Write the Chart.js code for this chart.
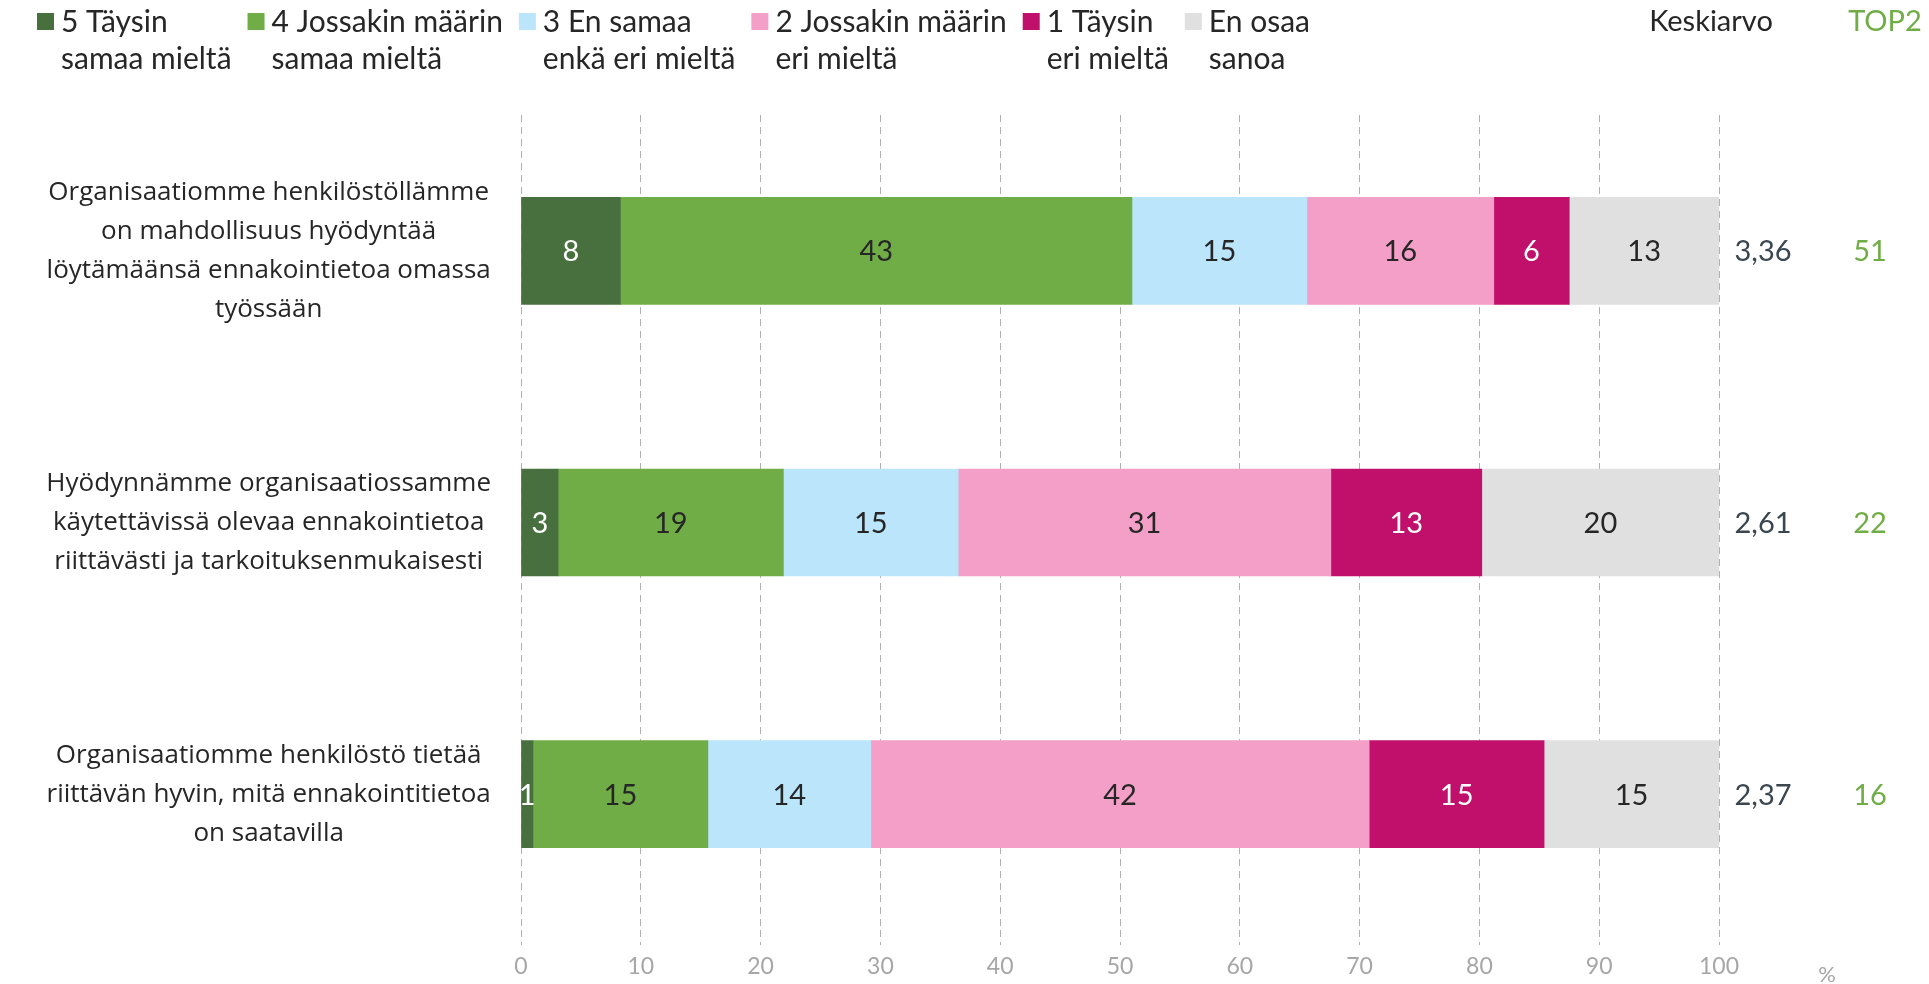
<!DOCTYPE html>
<html>
<head>
<meta charset="utf-8">
<script src="https://cdn.jsdelivr.net/npm/chart.js@4.4.0/dist/chart.umd.min.js"></script>
<style>
    html, body { margin: 0; padding: 0; background: #ffffff; }
    #wrap { width: 1929px; height: 984px; position: relative; }
</style>
</head>
<body>
<div id="wrap"><canvas id="chart" width="1929" height="984"></canvas></div>
<script>
// Chart data
const categories = [
    ['Organisaatiomme henkilöstöllämme', 'on mahdollisuus hyödyntää', 'löytämäänsä ennakointietoa omassa', 'työssään'],
    ['Hyödynnämme organisaatiossamme', 'käytettävissä olevaa ennakointietoa', 'riittävästi ja tarkoituksenmukaisesti'],
    ['Organisaatiomme henkilöstö tietää', 'riittävän hyvin, mitä ennakointitietoa', 'on saatavilla']
];

const seriesNames = [
    ['5 Täysin', 'samaa mieltä'],
    ['4 Jossakin määrin', 'samaa mieltä'],
    ['3 En samaa', 'enkä eri mieltä'],
    ['2 Jossakin määrin', 'eri mieltä'],
    ['1 Täysin', 'eri mieltä'],
    ['En osaa', 'sanoa']
];
const seriesColors = ['#48703f', '#70ad47', '#bae5fb', '#f39fc7', '#c1106c', '#e0e0e0'];
const labelColors = ['#ffffff', '#262626', '#262626', '#262626', '#ffffff', '#262626'];

const taysinSamaa = [8.3, 3.1, 1.0];
const jossakinSamaa = [42.7, 18.8, 14.6];
const enSamaaEnkaEri = [14.6, 14.6, 13.6];
const jossakinEri = [15.6, 31.1, 41.6];
const taysinEri = [6.3, 12.6, 14.6];
const enOsaa = [12.5, 19.8, 14.6];

const keskiarvo = ['3,36', '2,61', '2,37'];
const top2 = ['51', '22', '16'];

const xMin = 0;
const xMax = 100;
const xStep = 10;

const FONT = 'Lato, "Open Sans", sans-serif';
const LABEL_FONT = '"Open Sans", "Noto Sans", sans-serif';
const TEXT_COLOR = '#262626';

const seriesValues = [taysinSamaa, jossakinSamaa, enSamaaEnkaEri, jossakinEri, taysinEri, enOsaa];

// Numbers inside the bar segments
const segmentLabels = {
    id: 'segmentLabels',
    afterDatasetsDraw(chart) {
        const ctx = chart.ctx;
        ctx.save();
        ctx.font = '29px ' + FONT;
        ctx.textAlign = 'center';
        ctx.textBaseline = 'middle';
        chart.data.datasets.forEach((ds, i) => {
            const meta = chart.getDatasetMeta(i);
            meta.data.forEach((bar, j) => {
                const v = ds.data[j];
                if (!v) return;
                const cx = (bar.x + bar.base) / 2;
                ctx.fillStyle = labelColors[i];
                ctx.fillText(String(Math.round(v)), cx, bar.y + 1);
            });
        });
        ctx.restore();
    }
};

// Legend, column headers, mean and TOP2 values
const extras = {
    id: 'extras',
    afterDraw(chart) {
        const ctx = chart.ctx;
        const yScale = chart.scales.y;
        ctx.save();

        // legend
        ctx.font = '30px ' + FONT;
        ctx.textBaseline = 'middle';
        ctx.textAlign = 'left';
        let x = 37;
        seriesNames.forEach((lines, i) => {
            ctx.fillStyle = seriesColors[i];
            ctx.fillRect(x, 13, 17, 17);
            const tx = x + 24;
            ctx.fillStyle = TEXT_COLOR;
            let w = 0;
            lines.forEach((line, k) => {
                ctx.fillText(line, tx, 22 + k * 37);
                w = Math.max(w, ctx.measureText(line).width);
            });
            x = tx + w + 16;
        });

        // column headers
        ctx.font = '29px ' + FONT;
        ctx.textAlign = 'center';
        ctx.fillStyle = TEXT_COLOR;
        ctx.fillText('Keskiarvo', 1711, 22);
        ctx.fillStyle = '#70ad47';
        ctx.fillText('TOP2', 1885, 22);

        // values
        ctx.font = '29px ' + FONT;
        categories.forEach((c, j) => {
            const y = yScale.getPixelForValue(j) + 1;
            ctx.fillStyle = '#3a4650';
            ctx.fillText(keskiarvo[j], 1763, y);
            ctx.fillStyle = '#70ad47';
            ctx.fillText(top2[j], 1870, y);
        });

        // unit label
        ctx.font = '22px ' + FONT;
        ctx.fillStyle = '#a6a6a6';
        ctx.fillText('%', 1827, 975);
        ctx.restore();
    }
};

const ctx = document.getElementById('chart').getContext('2d');
const chart = new Chart(ctx, {
    type: 'bar',
    data: {
        labels: categories,
        datasets: seriesValues.map((vals, i) => ({
            label: seriesNames[i].join(' '),
            data: vals,
            backgroundColor: seriesColors[i],
            borderWidth: 0,
            barThickness: 107
        }))
    },
    options: {
        indexAxis: 'y',
        responsive: false,
        animation: false,
        devicePixelRatio: 1,
        layout: {
            padding: { top: 115, right: 210, left: 0, bottom: 0 }
        },
        plugins: {
            legend: { display: false },
            tooltip: { enabled: false }
        },
        scales: {
            x: {
                stacked: true,
                min: xMin,
                max: xMax,
                border: { display: false, dash: [7, 5] },
                grid: {
                    color: '#b0b0b0',
                    lineWidth: 1,
                    tickLength: 15,
                    tickBorderDash: [7, 5],
                    tickColor: '#b0b0b0'
                },
                ticks: {
                    stepSize: xStep,
                    color: '#a6a6a6',
                    font: { family: FONT, size: 23 },
                    padding: 8,
                    maxRotation: 0
                },
                afterFit(scale) {
                    scale.height = 54;
                    scale.paddingLeft = 0;
                    scale.paddingRight = 0;
                }
            },
            y: {
                stacked: true,
                border: { display: false },
                grid: { display: false, drawTicks: false },
                ticks: {
                    color: TEXT_COLOR,
                    crossAlign: 'center',
                    padding: 30,
                    font: { family: LABEL_FONT, size: 26, lineHeight: 1.5 }
                },
                afterFit(scale) {
                    scale.width = 521;
                    scale.paddingTop = 0;
                    scale.paddingBottom = 0;
                }
            }
        }
    },
    plugins: [segmentLabels, extras]
});
</script>
</body>
</html>
